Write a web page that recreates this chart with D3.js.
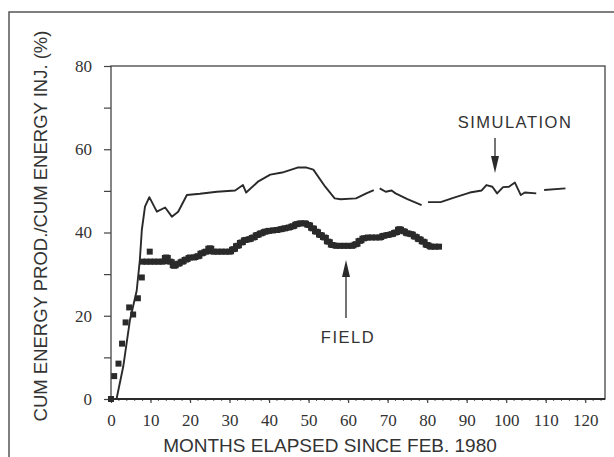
<!DOCTYPE html>
<html>
<head>
<meta charset="utf-8">
<script src="https://cdn.jsdelivr.net/npm/d3@7"></script>
<style>
  body { margin: 0; background: #fff; }
  svg { display: block; }
</style>
</head>
<body>
<svg id="drawing_region"></svg>
<script>
// simulation curve, null marks a gap in the trace
const simMonths = [0, 1.4, 3.1, 4.8, 6.5, 7.3, 7.8, 8.6, 9.7, 11.6, 13.7, 15.4, 17, 19.2, 22.5, 26.8,
  31.4, 33.4, 34.2, 37.3, 40.3, 43.3, 47.2, 49.5, 51.2, 54.2, 56.6, 58.1, 62, 64.6, 66.5,
  67.2, 68, 69.5, 71, 72, 75, 78.6,
  79.3, 80.2, 83.4, 86.8, 90.8, 93.8, 95, 96.5, 97.7, 99.2, 100.7, 102.2, 103.7, 104.7, 107.6,
  108.6, 109.6, 115];
const simValues = [0, 0, 7.8, 19, 26, 33.4, 40.6, 46.2, 48.5, 45, 46, 43.8, 45, 49, 49.3, 49.8,
  50.1, 51.4, 49.6, 52.3, 53.9, 54.4, 55.6, 55.6, 55.1, 51, 48.2, 48, 48.2, 49.4, 50.2,
  null, 50.6, 49.8, 50.1, 49.4, 48, 46.6,
  null, 47.3, 47.3, 48.4, 49.6, 50.1, 51.4, 51, 49.4, 50.9, 51, 52, 49, 49.6, 49.4,
  null, 50.2, 50.6];

// field data: early scattered points, then the monthly record
const fieldEarlyMonths = [0, 0.8, 1.9, 2.8, 3.7, 4.6, 5.6, 6.8, 7.8, 9.8];
const fieldEarlyValues = [0, 5.5, 8.5, 13.3, 18.4, 22, 20.3, 24.2, 29.2, 35.4];
const fieldMonths = [8, 9, 10, 11, 12, 13, 14, 15, 16, 17, 18, 19, 20, 21, 22, 23, 24, 25, 26, 27, 28, 29, 30,
  31, 32, 33, 34, 35, 36, 37, 38, 39, 40, 41, 42, 43, 44, 45, 46, 47, 48, 49, 50,
  51, 52, 53, 54, 55, 56, 57, 58, 59, 60, 61, 62, 63, 64, 65, 66, 67, 68, 69, 70,
  71, 72, 73, 74, 75, 76, 77, 78, 79, 80, 81, 82, 83];
const fieldValues = [33, 33, 33, 33, 33, 33, 34, 33, 32, 32.5, 33, 33.5, 34, 34, 34.3, 35, 35.4, 36.2, 35.4, 35.4, 35.4, 35.4, 35.4,
  36, 36.8, 37.6, 38.2, 38.4, 38.8, 39.4, 39.8, 40.2, 40.4, 40.5, 40.6, 40.8, 41, 41.2, 41.5, 42, 42.2, 42.2, 41.8,
  41, 40.2, 39.4, 38.8, 37.8, 37, 36.8, 36.8, 36.8, 36.8, 36.8, 37.2, 38, 38.6, 38.8, 38.8, 38.8, 38.8, 39.2, 39.4,
  39.6, 40, 40.8, 40.3, 39.8, 39.6, 39, 38.4, 37.8, 37, 36.6, 36.6, 36.6];

const xTicks = [0, 10, 20, 30, 40, 50, 60, 70, 80, 90, 100, 110, 120];
const yTicks = [0, 20, 40, 60, 80];

const W = 614, H = 457;
const ink = '#2a2a2a';

const svg = d3.select('#drawing_region').attr('width', W).attr('height', H);

// scanned page frame
svg.append('path')
  .attr('d', `M9,${H} L9,12 L${W},12`)
  .attr('fill', 'none').attr('stroke', '#555').attr('stroke-width', 1.5);

const x = d3.scaleLinear().domain([0, 125]).range([111, 605]);
const y = d3.scaleLinear().domain([0, 80]).range([399, 66]);

// plot box
svg.append('rect')
  .attr('x', x(0)).attr('y', y(80))
  .attr('width', x(125) - x(0)).attr('height', y(0) - y(80))
  .attr('fill', 'none').attr('stroke', '#444').attr('stroke-width', 1.3);

// y axis
const yAxis = svg.append('g')
  .attr('transform', `translate(${x(0)},0)`)
  .call(d3.axisLeft(y).tickValues(d3.range(0, 81, 10)).tickSize(7).tickPadding(12)
    .tickFormat(d => yTicks.includes(d) ? d : ''));
yAxis.select('.domain').remove();
yAxis.selectAll('line').attr('stroke', '#444').attr('stroke-width', 1.2);
yAxis.selectAll('text')
  .attr('font-family', '"Liberation Serif", "Times New Roman", serif')
  .attr('font-size', 17).attr('fill', '#333');

// x axis
const xAxis = svg.append('g')
  .attr('transform', `translate(0,${y(0)})`)
  .call(d3.axisBottom(x).tickValues(xTicks).tickSize(4).tickPadding(11));
xAxis.select('.domain').remove();
xAxis.selectAll('line').attr('stroke', '#444').attr('stroke-width', 1.2);
xAxis.selectAll('text')
  .attr('font-family', '"Liberation Serif", "Times New Roman", serif')
  .attr('font-size', 17).attr('fill', '#333');

// minor x ticks
svg.append('g').selectAll('line')
  .data(d3.range(0, 125, 2))
  .join('line')
  .attr('x1', d => x(d)).attr('x2', d => x(d))
  .attr('y1', y(0)).attr('y2', y(0) + 2)
  .attr('stroke', '#666').attr('stroke-width', 1);

svg.append('line')
  .attr('x1', x(0)).attr('x2', x(125))
  .attr('y1', y(0)).attr('y2', y(0))
  .attr('stroke', ink).attr('stroke-width', 2);

// axis titles
svg.append('text')
  .attr('transform', `translate(47,226) rotate(-90)`)
  .attr('text-anchor', 'middle')
  .attr('font-family', '"Liberation Sans", Arial, sans-serif')
  .attr('font-size', 18.5).attr('fill', '#333')
  .text('CUM ENERGY PROD./CUM ENERGY INJ. (%)');

svg.append('text')
  .attr('x', 330).attr('y', 452)
  .attr('text-anchor', 'middle')
  .attr('font-family', '"Liberation Sans", Arial, sans-serif')
  .attr('font-size', 19).attr('fill', '#333')
  .text('MONTHS ELAPSED SINCE FEB. 1980');

// simulation line
const simData = simMonths.map((m, i) => ({ m: m, v: simValues[i] }));
const line = d3.line()
  .defined(d => d.v !== null)
  .x(d => x(d.m)).y(d => y(d.v));
svg.append('path')
  .datum(simData)
  .attr('d', line)
  .attr('fill', 'none').attr('stroke', ink)
  .attr('stroke-width', 1.9).attr('stroke-linejoin', 'round');

// field: monthly record drawn as a stepped band of squares
const fieldData = fieldMonths.map((m, i) => ({ m: m, v: fieldValues[i] }));
const early = fieldEarlyMonths.map((m, i) => ({ m: m, v: fieldEarlyValues[i] }));
const sq = 6;
svg.append('path')
  .datum(fieldData)
  .attr('d', d3.line().curve(d3.curveStep).x(d => x(d.m)).y(d => y(d.v)))
  .attr('fill', 'none').attr('stroke', ink).attr('stroke-width', 5);
svg.append('g').selectAll('rect')
  .data(early.concat(fieldData))
  .join('rect')
  .attr('x', d => x(d.m) - sq / 2).attr('y', d => y(d.v) - sq / 2)
  .attr('width', sq).attr('height', sq)
  .attr('fill', ink);

// annotations
function arrow(xp, y0, y1) {
  // y1 is the tip
  const dir = y1 > y0 ? 1 : -1;
  svg.append('line')
    .attr('x1', xp).attr('x2', xp).attr('y1', y0).attr('y2', y1 - dir * 10)
    .attr('stroke', ink).attr('stroke-width', 1.3);
  svg.append('path')
    .attr('d', `M${xp},${y1} L${xp - 4},${y1 - dir * 17} L${xp + 4},${y1 - dir * 17} Z`)
    .attr('fill', ink);
}

svg.append('text')
  .attr('x', 515).attr('y', 128)
  .attr('text-anchor', 'middle')
  .attr('font-family', '"Liberation Sans", Arial, sans-serif')
  .attr('font-size', 16.5).attr('letter-spacing', 1.5).attr('fill', '#333')
  .text('SIMULATION');
arrow(495, 138, 173);

svg.append('text')
  .attr('x', 348).attr('y', 343)
  .attr('text-anchor', 'middle')
  .attr('font-family', '"Liberation Sans", Arial, sans-serif')
  .attr('font-size', 16.5).attr('letter-spacing', 1.5).attr('fill', '#333')
  .text('FIELD');
arrow(346, 318, 260);
</script>
</body>
</html>
